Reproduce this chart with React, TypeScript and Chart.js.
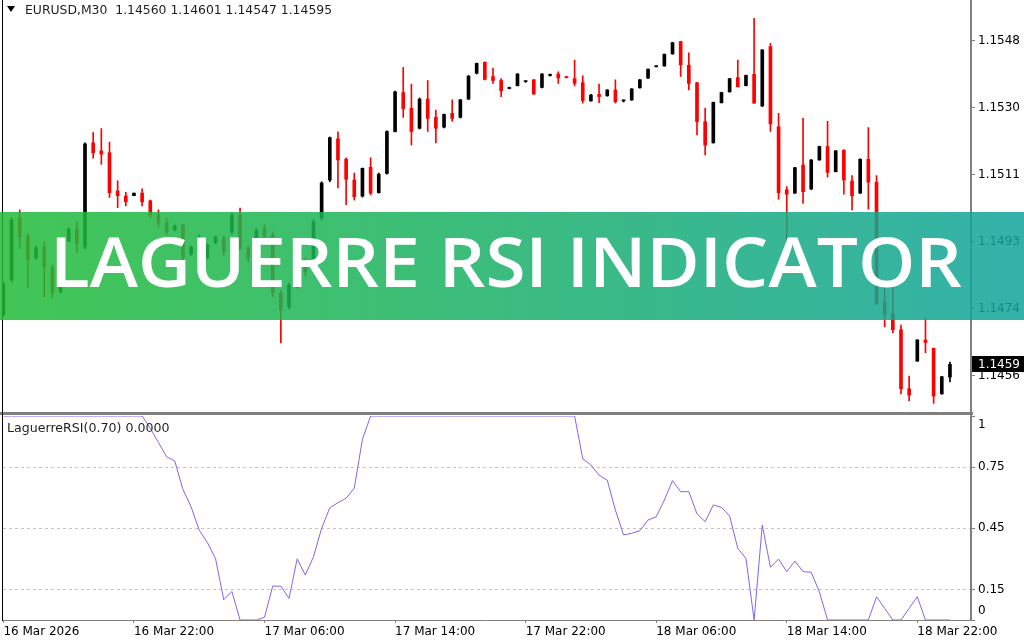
import React, { useEffect, useRef } from 'react';
import { Chart, registerables } from 'chart.js';

Chart.register(...registerables);

// ---------- DATA ----------
const OPEN = [
  1.14731, 1.14827, 1.14997, 1.14947, 1.14887, 1.14917, 1.14862, 1.14794, 1.14934, 1.14967,
  1.14917, 1.15203, 1.15181, 1.15176, 1.15071, 1.15057, 1.15058, 1.15065, 1.15044, 1.15005,
  1.14983, 1.14964, 1.14978, 1.14898, 1.14942, 1.14887, 1.14928, 1.14942, 1.14958, 1.15005,
  1.14914, 1.14942, 1.14967, 1.14950, 1.14791, 1.14753, 1.14810, 1.14876, 1.14860, 1.14997,
  1.15101, 1.15214, 1.15158, 1.15101, 1.15057, 1.15136, 1.15066, 1.15119, 1.15234, 1.15341,
  1.15298, 1.15243, 1.15323, 1.15273, 1.15246, 1.15284, 1.15273, 1.15323, 1.15394, 1.15424,
  1.15385, 1.15374, 1.15352, 1.15360, 1.15371, 1.15376, 1.15355, 1.15388, 1.15392, 1.15384,
  1.15379, 1.15368, 1.15318, 1.15336, 1.15332, 1.15348, 1.15318, 1.15321, 1.15354, 1.15381,
  1.15412, 1.15414, 1.15447, 1.15481, 1.15416, 1.15368, 1.15261, 1.15203, 1.15313, 1.15343,
  1.15382, 1.15360, 1.15391, 1.15304, 1.15467, 1.15247, 1.15074, 1.15065, 1.15142, 1.15076,
  1.15156, 1.15193, 1.15124, 1.15183, 1.15098, 1.15065, 1.15158, 1.15095, 1.14766, 1.14733,
  1.14690, 1.14528, 1.14604, 1.14662, 1.14639, 1.14514, 1.14560,
];
const HIGH = [
  1.14821, 1.14997, 1.15019, 1.14953, 1.14920, 1.14931, 1.14868, 1.14816, 1.14969, 1.14986,
  1.15203, 1.15231, 1.15242, 1.15205, 1.15099, 1.15067, 1.15065, 1.15077, 1.15046, 1.15019,
  1.14997, 1.14978, 1.14980, 1.14920, 1.14950, 1.14926, 1.14947, 1.14947, 1.15011, 1.15024,
  1.14920, 1.14967, 1.14978, 1.14958, 1.14799, 1.14818, 1.14882, 1.14887, 1.14991, 1.15096,
  1.15219, 1.15233, 1.15162, 1.15120, 1.15134, 1.15162, 1.15120, 1.15236, 1.15345, 1.15410,
  1.15364, 1.15326, 1.15374, 1.15293, 1.15282, 1.15321, 1.15322, 1.15388, 1.15422, 1.15425,
  1.15408, 1.15379, 1.15356, 1.15393, 1.15373, 1.15377, 1.15393, 1.15392, 1.15398, 1.15386,
  1.15430, 1.15387, 1.15336, 1.15364, 1.15349, 1.15376, 1.15321, 1.15352, 1.15377, 1.15406,
  1.15414, 1.15447, 1.15479, 1.15482, 1.15450, 1.15369, 1.15298, 1.15315, 1.15342, 1.15380,
  1.15430, 1.15389, 1.15545, 1.15459, 1.15476, 1.15284, 1.15083, 1.15136, 1.15270, 1.15157,
  1.15194, 1.15262, 1.15182, 1.15184, 1.15113, 1.15159, 1.15245, 1.15113, 1.14815, 1.14805,
  1.14703, 1.14563, 1.14663, 1.14722, 1.14640, 1.14562, 1.14601,
];
const LOW = [
  1.14728, 1.14821, 1.14914, 1.14805, 1.14884, 1.14780, 1.14777, 1.14791, 1.14931, 1.14901,
  1.14912, 1.15161, 1.15144, 1.15053, 1.15025, 1.15030, 1.15058, 1.15030, 1.14997, 1.14969,
  1.14950, 1.14961, 1.14882, 1.14893, 1.14934, 1.14884, 1.14926, 1.14893, 1.14953, 1.14909,
  1.14876, 1.14936, 1.14936, 1.14780, 1.14654, 1.14747, 1.14805, 1.14838, 1.14855, 1.14991,
  1.15096, 1.15079, 1.15033, 1.15046, 1.15054, 1.15060, 1.15065, 1.15117, 1.15233, 1.15273,
  1.15197, 1.15241, 1.15234, 1.15203, 1.15244, 1.15262, 1.15271, 1.15322, 1.15392, 1.15376,
  1.15366, 1.15330, 1.15351, 1.15359, 1.15369, 1.15336, 1.15354, 1.15386, 1.15366, 1.15381,
  1.15359, 1.15312, 1.15317, 1.15313, 1.15331, 1.15312, 1.15315, 1.15319, 1.15353, 1.15379,
  1.15411, 1.15413, 1.15446, 1.15385, 1.15348, 1.15225, 1.15170, 1.15202, 1.15312, 1.15342,
  1.15356, 1.15359, 1.15311, 1.15303, 1.15234, 1.15048, 1.14914, 1.15064, 1.15037, 1.15075,
  1.15155, 1.15109, 1.15123, 1.15062, 1.15019, 1.15064, 1.15021, 1.14760, 1.14698, 1.14682,
  1.14514, 1.14495, 1.14603, 1.14627, 1.14488, 1.14513, 1.14547,
];
const CLOSE = [
  1.14816, 1.14991, 1.14945, 1.14882, 1.14914, 1.14862, 1.14791, 1.14813, 1.14967, 1.14926,
  1.15200, 1.15176, 1.15172, 1.15066, 1.15058, 1.15041, 1.15065, 1.15041, 1.15005, 1.14983,
  1.14958, 1.14975, 1.14890, 1.14917, 1.14945, 1.14923, 1.14945, 1.14904, 1.15005, 1.14914,
  1.14887, 1.14961, 1.14945, 1.14791, 1.14744, 1.14813, 1.14876, 1.14849, 1.14986, 1.15093,
  1.15217, 1.15156, 1.15103, 1.15055, 1.15133, 1.15065, 1.15117, 1.15234, 1.15343, 1.15297,
  1.15234, 1.15323, 1.15270, 1.15243, 1.15281, 1.15270, 1.15321, 1.15386, 1.15421, 1.15377,
  1.15374, 1.15346, 1.15355, 1.15392, 1.15371, 1.15337, 1.15392, 1.15389, 1.15381, 1.15382,
  1.15366, 1.15319, 1.15334, 1.15330, 1.15348, 1.15316, 1.15319, 1.15351, 1.15376, 1.15405,
  1.15413, 1.15446, 1.15478, 1.15417, 1.15366, 1.15261, 1.15197, 1.15314, 1.15341, 1.15379,
  1.15357, 1.15388, 1.15312, 1.15458, 1.15255, 1.15066, 1.15062, 1.15135, 1.15069, 1.15156,
  1.15193, 1.15122, 1.15181, 1.15101, 1.15058, 1.15158, 1.15095, 1.14761, 1.14733, 1.14690,
  1.14528, 1.14511, 1.14662, 1.14655, 1.14508, 1.14561, 1.14595,
];
const RSI = [
  1, 1, 1, 1, 1, 1, 1, 1, 1, 1,
  1, 1, 1, 1, 1, 1, 1, 1, 0.94, 0.87,
  0.8, 0.78, 0.64, 0.555, 0.44, 0.38, 0.3, 0.1, 0.14, 0,
  0, 0, 0.013, 0.166, 0.166, 0.106, 0.3, 0.22, 0.31, 0.45,
  0.55, 0.575, 0.597, 0.646, 0.886, 1, 1, 1, 1, 1,
  1, 1, 1, 1, 1, 1, 1, 1, 1, 1,
  1, 1, 1, 1, 1, 1, 1, 1, 1, 1,
  1, 0.79, 0.76, 0.71, 0.686, 0.539, 0.417, 0.425, 0.438, 0.49,
  0.506, 0.588, 0.683, 0.629, 0.629, 0.52, 0.482, 0.564, 0.552, 0.51,
  0.351, 0.302, 0, 0.466, 0.258, 0.299, 0.237, 0.289, 0.237, 0.234,
  0.138, 0, 0, 0, 0, 0, 0, 0.114, 0.057, 0,
  0, 0.057, 0.114, 0, 0, 0, 0,
];

const PRICE_TICKS = [1.145633, 1.147471, 1.14931, 1.151148, 1.152986, 1.154825];
const PRICE_TICK_LABELS = ['1.1456', '1.1474', '1.1493', '1.1511', '1.1530', '1.1548'];
const PRICE_MIN = 1.14467;
const PRICE_MAX = 1.15595;

const TIME_TICKS = [0, 16, 32, 48, 64, 80, 96, 112];
const TIME_LABELS = [
  '16 Mar 2026', '16 Mar 22:00', '17 Mar 06:00', '17 Mar 14:00',
  '17 Mar 22:00', '18 Mar 06:00', '18 Mar 14:00', '18 Mar 22:00',
];

const RSI_TICKS = [0, 0.15, 0.45, 0.75, 1];
const RSI_TICK_LABELS = ['0', '0.15', '0.45', '0.75', '1'];
const RSI_LEVELS = [0.15, 0.45, 0.75];

const X_MIN = -0.05;
const X_MAX = 118.58;

const BULL = '#000000';
const BEAR = '#ff0000';
const RSI_COLOR = '#7b68ee';
const AXIS_GRAY = '#808080';
const FONT = { family: 'DejaVu Sans', size: 12 };

const currentPricePlugin = {
  id: 'currentPrice',
  afterDraw(chart: any) {
    const { ctx, chartArea, scales } = chart;
    const last = CLOSE[CLOSE.length - 1];
    const y = Math.round(scales.y.getPixelForValue(last));
    ctx.save();
    ctx.fillStyle = '#000';
    ctx.fillRect(chartArea.right + 1, y - 8, chart.width - chartArea.right - 1, 16);
    ctx.fillStyle = '#fff';
    ctx.font = '12px "DejaVu Sans"';
    ctx.textBaseline = 'middle';
    ctx.textAlign = 'left';
    ctx.fillText((Math.floor(last * 1e4) / 1e4).toFixed(4), chartArea.right + 7, y + 0.5);
    ctx.restore();
  },
};

export default function App() {
  const priceRef = useRef<HTMLCanvasElement>(null);
  const rsiRef = useRef<HTMLCanvasElement>(null);

  useEffect(() => {
    document.body.style.margin = '0';
    const colors = CLOSE.map((c, i) => (c >= OPEN[i] ? BULL : BEAR));

    const priceChart = new Chart(priceRef.current as HTMLCanvasElement, {
      type: 'bar',
      data: {
        datasets: [
          {
            label: 'wick',
            data: CLOSE.map((_, i) => ({ x: i, y: [LOW[i], HIGH[i]] })) as any,
            backgroundColor: colors,
            barThickness: 1,
            grouped: false,
            order: 2,
          } as any,
          {
            label: 'body',
            data: CLOSE.map((c, i) => ({ x: i, y: [OPEN[i], c] })) as any,
            backgroundColor: colors,
            barThickness: 3,
            minBarLength: 1,
            grouped: false,
            order: 1,
          } as any,
        ],
      },
      options: {
        animation: false,
        responsive: false,
        events: [],
        layout: { padding: { left: 3, right: 0, top: 0, bottom: 1 } },
        plugins: { legend: { display: false }, tooltip: { enabled: false } },
        scales: {
          x: { type: 'linear', min: X_MIN, max: X_MAX, offset: false, display: false },
          y: {
            position: 'right',
            min: PRICE_MIN,
            max: PRICE_MAX,
            afterBuildTicks: (s: any) => {
              s.ticks = PRICE_TICKS.map((v) => ({ value: v }));
            },
            afterFit: (s: any) => {
              s.width = 53;
              s.paddingTop = 0;
              s.paddingBottom = 0;
            },
            ticks: {
              callback: (_v: any, i: number) => PRICE_TICK_LABELS[i],
              font: FONT,
              color: '#000',
              padding: 3,
            },
            grid: { drawOnChartArea: false, tickLength: 4, color: AXIS_GRAY },
            border: { color: AXIS_GRAY, width: 2 },
          } as any,
        },
      },
      plugins: [currentPricePlugin],
    });

    const rsiChart = new Chart(rsiRef.current as HTMLCanvasElement, {
      type: 'line',
      data: {
        datasets: [
          {
            data: RSI.map((v, i) => ({ x: i, y: v })),
            borderColor: RSI_COLOR,
            borderWidth: 1,
            pointRadius: 0,
            tension: 0,
            fill: false,
          },
        ],
      },
      options: {
        animation: false,
        responsive: false,
        events: [],
        layout: { padding: { left: 3, right: 0, top: 4, bottom: 0 } },
        plugins: { legend: { display: false }, tooltip: { enabled: false } },
        scales: {
          x: {
            type: 'linear',
            min: X_MIN,
            max: X_MAX,
            offset: false,
            afterBuildTicks: (s: any) => {
              s.ticks = TIME_TICKS.map((v) => ({ value: v }));
            },
            afterFit: (s: any) => {
              s.height = 20;
              s.paddingLeft = 0;
              s.paddingRight = 0;
            },
            ticks: {
              autoSkip: false,
              maxRotation: 0,
              minRotation: 0,
              align: 'start',
              padding: 2,
              callback: (_v: any, i: number) => TIME_LABELS[i],
              font: FONT,
              color: '#000',
            },
            grid: { drawOnChartArea: false, drawTicks: true, tickLength: 3, color: AXIS_GRAY },
            border: { display: true, color: AXIS_GRAY, width: 1 },
          } as any,
          y: {
            position: 'right',
            min: 0,
            max: 1,
            afterBuildTicks: (s: any) => {
              s.ticks = RSI_TICKS.map((v) => ({ value: v }));
            },
            afterFit: (s: any) => {
              s.width = 53;
              s.paddingTop = 0;
              s.paddingBottom = 0;
            },
            ticks: {
              callback: (_v: any, i: number) => {
                const lab = RSI_TICK_LABELS[i];
                if (i === RSI_TICKS.length - 1) return ['', lab];
                if (i === 0) return [lab, ''];
                return lab;
              },
              font: { family: 'DejaVu Sans', size: 12, lineHeight: 1.5 },
              color: '#000',
              padding: 3,
            },
            grid: {
              color: (ctx: any) =>
                ctx.tick && RSI_LEVELS.includes(ctx.tick.value) ? '#c4c4c4' : 'rgba(0,0,0,0)',
              tickColor: AXIS_GRAY,
              tickLength: 4,
            },
            border: { color: AXIS_GRAY, width: 2, dash: [3, 3] },
          } as any,
        },
      },
    });

    return () => {
      priceChart.destroy();
      rsiChart.destroy();
    };
  }, []);

  const textFont = '"DejaVu Sans", Tahoma, sans-serif';

  return (
    <div style={{ position: 'fixed', left: 0, top: 0, width: 1024, height: 640, background: '#fff', overflow: 'hidden' }}>
      <canvas ref={priceRef} width={1024} height={412} style={{ position: 'absolute', left: 0, top: 0 }} />
      <canvas ref={rsiRef} width={1024} height={228} style={{ position: 'absolute', left: 0, top: 412 }} />
      {/* panel separator */}
      <div style={{ position: 'absolute', left: 0, top: 412, width: 973, height: 3, background: '#7f7f7f' }} />
      {/* left frame line */}
      <div style={{ position: 'absolute', left: 2, top: 0, width: 1, height: 621, background: '#000' }} />
      {/* header */}
      <div
        style={{
          position: 'absolute', left: 7, top: 6, width: 0, height: 0,
          borderLeft: '4.5px solid transparent', borderRight: '4.5px solid transparent', borderTop: '6px solid #000',
        }}
      />
      <div style={{ position: 'absolute', left: 25, top: 2, font: `12.4px ${textFont}`, color: '#1e1e1e', whiteSpace: 'pre' }}>
        {'EURUSD,M30  1.14560 1.14601 1.14547 1.14595'}
      </div>
      {/* indicator legend */}
      <div style={{ position: 'absolute', left: 7, top: 420, font: `12.6px ${textFont}`, color: '#1e1e1e', whiteSpace: 'pre' }}>
        {'LaguerreRSI(0.70) 0.0000'}
      </div>
      {/* banner */}
      <div
        style={{
          position: 'absolute', left: 0, top: 212, width: 1024, height: 108,
          background: 'linear-gradient(90deg, rgba(33,187,55,0.85) 0%, rgba(25,176,105,0.85) 50%, rgba(16,164,155,0.85) 100%)',
        }}
      >
        <svg width={1024} height={108} style={{ position: 'absolute', left: 0, top: 0 }}>
          <text
            x={50}
            y={75}
            fill="#ffffff"
            fontFamily='"Open Sans", "Noto Sans", sans-serif'
            fontWeight={600}
            fontSize={68}
            textLength={912}
            lengthAdjust="spacingAndGlyphs"
          >
            LAGUERRE RSI INDICATOR
          </text>
        </svg>
      </div>
    </div>
  );
}
